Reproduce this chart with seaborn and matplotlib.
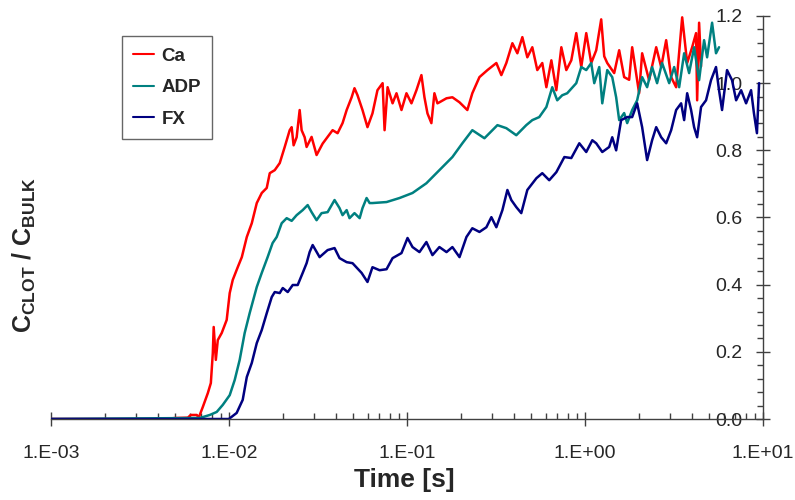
import numpy as np
import pandas as pd
import matplotlib
matplotlib.use("Agg")
import matplotlib.pyplot as plt
from matplotlib.ticker import LogLocator, MultipleLocator, NullFormatter
import seaborn as sns

# series names + colours
series = ["Ca", "ADP", "FX"]
colors = ["#FF0000", "#008080", "#000080"]

x_ticks = [1e-3, 1e-2, 1e-1, 1e0, 1e1]
x_tick_labels = ["1.E-03", "1.E-02", "1.E-01", "1.E+00", "1.E+01"]
y_ticks = [0.0, 0.2, 0.4, 0.6, 0.8, 1.0, 1.2]
y_tick_labels = ["0.0", "0.2", "0.4", "0.6", "0.8", "1.0", "1.2"]

# time as log10(t [s])
ca_log_t = [-3.000, -2.372, -2.300, -2.231, -2.215, -2.181, -2.170, -2.147, -2.119, -2.102,
            -2.091, -2.086, -2.074, -2.063, -2.041, -2.013, -1.996, -1.979, -1.951, -1.928,
            -1.900, -1.872, -1.844, -1.816, -1.788, -1.771, -1.743, -1.715, -1.687, -1.659,
            -1.648, -1.637, -1.620, -1.603, -1.592, -1.575, -1.564, -1.536, -1.508, -1.474,
            -1.446, -1.418, -1.390, -1.362, -1.339, -1.311, -1.295, -1.278, -1.250, -1.222,
            -1.194, -1.166, -1.137, -1.126, -1.109, -1.081, -1.059, -1.031, -1.003, -0.975,
            -0.947, -0.919, -0.902, -0.885, -0.863, -0.846, -0.829, -0.818, -0.778, -0.745,
            -0.705, -0.661, -0.633, -0.593, -0.548, -0.498, -0.470, -0.442, -0.408, -0.380,
            -0.352, -0.324, -0.296, -0.268, -0.240, -0.217, -0.189, -0.161, -0.133, -0.105,
            -0.077, -0.049, -0.021, 0.007, 0.035, 0.063, 0.091, 0.108, 0.125, 0.164,
            0.192, 0.220, 0.248, 0.265, 0.304, 0.321, 0.360, 0.400, 0.428, 0.456,
            0.484, 0.512, 0.546, 0.574, 0.602, 0.624, 0.630, 0.641, 0.652]
ca_val = [0.000, 0.000, 0.003, 0.004, 0.012, 0.012, 0.004, 0.036, 0.077, 0.107,
          0.196, 0.274, 0.176, 0.235, 0.256, 0.295, 0.375, 0.414, 0.452, 0.482,
          0.542, 0.583, 0.643, 0.673, 0.688, 0.732, 0.741, 0.762, 0.810, 0.860,
          0.869, 0.815, 0.839, 0.920, 0.860, 0.839, 0.810, 0.840, 0.786, 0.820,
          0.840, 0.860, 0.851, 0.881, 0.920, 0.958, 0.985, 0.964, 0.920, 0.869,
          0.910, 0.979, 1.000, 0.860, 0.988, 0.940, 0.970, 0.920, 0.970, 0.940,
          0.979, 1.024, 0.958, 0.910, 0.881, 0.970, 0.940, 0.943, 0.955, 0.958,
          0.943, 0.920, 0.970, 1.018, 1.039, 1.060, 1.024, 1.060, 1.119, 1.089,
          1.137, 1.077, 1.107, 1.039, 1.060, 0.988, 1.068, 0.979, 1.107, 1.039,
          1.068, 1.149, 1.048, 1.149, 1.060, 1.098, 1.190, 1.080, 1.060, 1.030,
          1.098, 1.018, 1.010, 1.107, 0.970, 1.089, 1.009, 1.107, 1.048, 1.128,
          1.018, 0.988, 1.196, 1.060, 1.107, 1.149, 0.949, 1.180, 1.050]

adp_log_t = [-3.000, -2.164, -2.108, -2.069, -2.035, -1.996, -1.968, -1.940, -1.912, -1.884,
             -1.844, -1.816, -1.783, -1.755, -1.732, -1.704, -1.676, -1.648, -1.620, -1.586,
             -1.558, -1.536, -1.508, -1.480, -1.446, -1.407, -1.379, -1.362, -1.339, -1.323,
             -1.295, -1.266, -1.250, -1.227, -1.210, -1.194, -1.115, -1.042, -0.969, -0.891,
             -0.818, -0.745, -0.689, -0.633, -0.565, -0.492, -0.442, -0.386, -0.330, -0.296,
             -0.257, -0.217, -0.184, -0.156, -0.128, -0.100, -0.049, -0.021, 0.007, 0.035,
             0.052, 0.080, 0.097, 0.125, 0.153, 0.175, 0.192, 0.220, 0.237, 0.265,
             0.293, 0.321, 0.349, 0.377, 0.405, 0.433, 0.473, 0.501, 0.529, 0.557,
             0.585, 0.613, 0.641, 0.669, 0.686, 0.714, 0.736, 0.753]
adp_val = [0.000, 0.003, 0.012, 0.021, 0.042, 0.071, 0.116, 0.176, 0.256, 0.315,
           0.393, 0.435, 0.482, 0.524, 0.542, 0.583, 0.598, 0.590, 0.607, 0.622,
           0.637, 0.616, 0.592, 0.613, 0.616, 0.652, 0.628, 0.607, 0.622, 0.598,
           0.613, 0.598, 0.628, 0.658, 0.643, 0.643, 0.646, 0.658, 0.673, 0.702,
           0.741, 0.780, 0.821, 0.860, 0.836, 0.875, 0.866, 0.845, 0.875, 0.890,
           0.899, 0.929, 0.988, 0.949, 0.964, 0.970, 1.000, 1.048, 1.039, 1.060,
           1.000, 1.048, 0.940, 1.039, 1.018, 0.958, 0.890, 0.911, 0.881, 0.920,
           0.949, 1.018, 0.988, 1.048, 1.000, 1.060, 1.000, 1.048, 0.988, 1.089,
           1.030, 1.107, 1.009, 1.128, 1.077, 1.180, 1.089, 1.107]

fx_log_t = [-3.000, -2.001, -1.957, -1.923, -1.900, -1.872, -1.844, -1.816, -1.788, -1.760,
            -1.743, -1.715, -1.698, -1.670, -1.642, -1.614, -1.586, -1.564, -1.547, -1.530,
            -1.491, -1.446, -1.407, -1.379, -1.339, -1.306, -1.255, -1.222, -1.194, -1.154,
            -1.115, -1.081, -1.031, -0.997, -0.969, -0.930, -0.891, -0.857, -0.818, -0.778,
            -0.745, -0.705, -0.666, -0.633, -0.593, -0.554, -0.526, -0.498, -0.464, -0.436,
            -0.414, -0.386, -0.358, -0.324, -0.273, -0.240, -0.201, -0.161, -0.116, -0.077,
            -0.032, 0.007, 0.041, 0.063, 0.097, 0.136, 0.153, 0.175, 0.203, 0.237,
            0.265, 0.293, 0.321, 0.349, 0.377, 0.400, 0.428, 0.456, 0.484, 0.512,
            0.540, 0.557, 0.574, 0.596, 0.613, 0.630, 0.652, 0.680, 0.708, 0.736,
            0.753, 0.770, 0.798, 0.826, 0.849, 0.877, 0.905, 0.933, 0.949, 0.966, 0.978]
fx_val = [0.000, 0.000, 0.018, 0.057, 0.125, 0.167, 0.226, 0.265, 0.315, 0.363,
          0.378, 0.375, 0.390, 0.378, 0.399, 0.399, 0.435, 0.464, 0.497, 0.518,
          0.482, 0.503, 0.509, 0.479, 0.467, 0.464, 0.435, 0.408, 0.452, 0.443,
          0.446, 0.479, 0.494, 0.539, 0.512, 0.497, 0.527, 0.488, 0.512, 0.497,
          0.512, 0.482, 0.542, 0.568, 0.557, 0.571, 0.601, 0.571, 0.622, 0.682,
          0.652, 0.631, 0.613, 0.682, 0.717, 0.732, 0.711, 0.735, 0.780, 0.777,
          0.821, 0.795, 0.830, 0.821, 0.795, 0.810, 0.839, 0.800, 0.890, 0.899,
          0.899, 0.940, 0.869, 0.771, 0.830, 0.869, 0.839, 0.821, 0.860, 0.920,
          0.940, 0.890, 0.970, 0.920, 0.869, 0.839, 0.929, 0.949, 1.009, 1.048,
          0.979, 0.920, 1.039, 1.009, 0.949, 0.979, 0.940, 0.979, 0.911, 0.851, 1.000]

frames = []
for name, lt, v in [("Ca", ca_log_t, ca_val), ("ADP", adp_log_t, adp_val), ("FX", fx_log_t, fx_val)]:
    frames.append(pd.DataFrame({"time": 10.0 ** np.array(lt), "ratio": v, "agent": name}))
df = pd.concat(frames, ignore_index=True)

sns.set_theme(style="white")
plt.rcParams["font.family"] = ["Liberation Sans", "DejaVu Sans"]
plt.rcParams["mathtext.fontset"] = "custom"
plt.rcParams["mathtext.rm"] = "Liberation Sans"
plt.rcParams["mathtext.bf"] = "Liberation Sans:bold"

fig = plt.figure(figsize=(7.95, 5), dpi=100)
ax = fig.add_axes([51 / 795, 81 / 500, 712 / 795, 403 / 500])

sns.lineplot(data=df, x="time", y="ratio", hue="agent", hue_order=series,
             palette=dict(zip(series, colors)), estimator=None, sort=False,
             linewidth=1.8, ax=ax)

ax.set_xscale("log")
ax.set_xlim(1e-3, 1e1)
ax.set_ylim(0, 1.2)

# x axis ticks
ax.set_xticks(x_ticks, labels=x_tick_labels)
ax.xaxis.set_minor_locator(LogLocator(base=10, subs=np.arange(2, 10)))
ax.xaxis.set_minor_formatter(NullFormatter())
ax.tick_params(axis="x", which="major", direction="inout", length=10, width=1,
               color="#404040", labelsize=14, pad=14, bottom=True)
ax.tick_params(axis="x", which="minor", direction="in", length=4, width=1,
               color="#404040", bottom=True)

# y axis sits on the right, labels drawn inside
ax.yaxis.set_ticks_position("right")
ax.set_yticks(y_ticks, labels=y_tick_labels)
ax.yaxis.set_minor_locator(MultipleLocator(0.04))
ax.tick_params(axis="y", which="major", direction="inout", length=10, width=1,
               color="#404040", labelsize=14, right=True, left=False,
               labelright=True, labelleft=False, pad=-20)
ax.tick_params(axis="y", which="minor", direction="in", length=4, width=1,
               color="#404040", right=True, left=False)
for lbl in ax.get_yticklabels():
    lbl.set_horizontalalignment("right")

for side in ["top", "left"]:
    ax.spines[side].set_visible(False)
for side in ["bottom", "right"]:
    ax.spines[side].set_color("#404040")
    ax.spines[side].set_linewidth(1)

ax.set_xlabel("Time [s]", fontsize=19, fontweight="bold")
ax.xaxis.set_label_coords(0.496, -0.151)
ax.xaxis.label.set_va("center")

ax.yaxis.set_label_position("left")
ax.set_ylabel(r"$\mathbf{C_{CLOT}}$ / $\mathbf{C_{BULK}}$", fontsize=18, fontweight="bold")
ax.yaxis.set_label_coords(-0.037, 0.407)
ax.yaxis.label.set_va("center")

handles, labels = ax.get_legend_handles_labels()
leg = ax.legend(handles, labels, loc="upper left", bbox_to_anchor=(0.0997, 0.950),
                borderaxespad=0, frameon=True, fancybox=False, handlelength=1.1,
                handletextpad=0.4, labelspacing=0.78, borderpad=0.6,
                prop={"weight": "bold", "size": 13.5})
leg.get_frame().set_edgecolor("#404040")
leg.get_frame().set_linewidth(1)
for line in leg.get_lines():
    line.set_linewidth(1.5)

fig.savefig("out.png", dpi=100)
